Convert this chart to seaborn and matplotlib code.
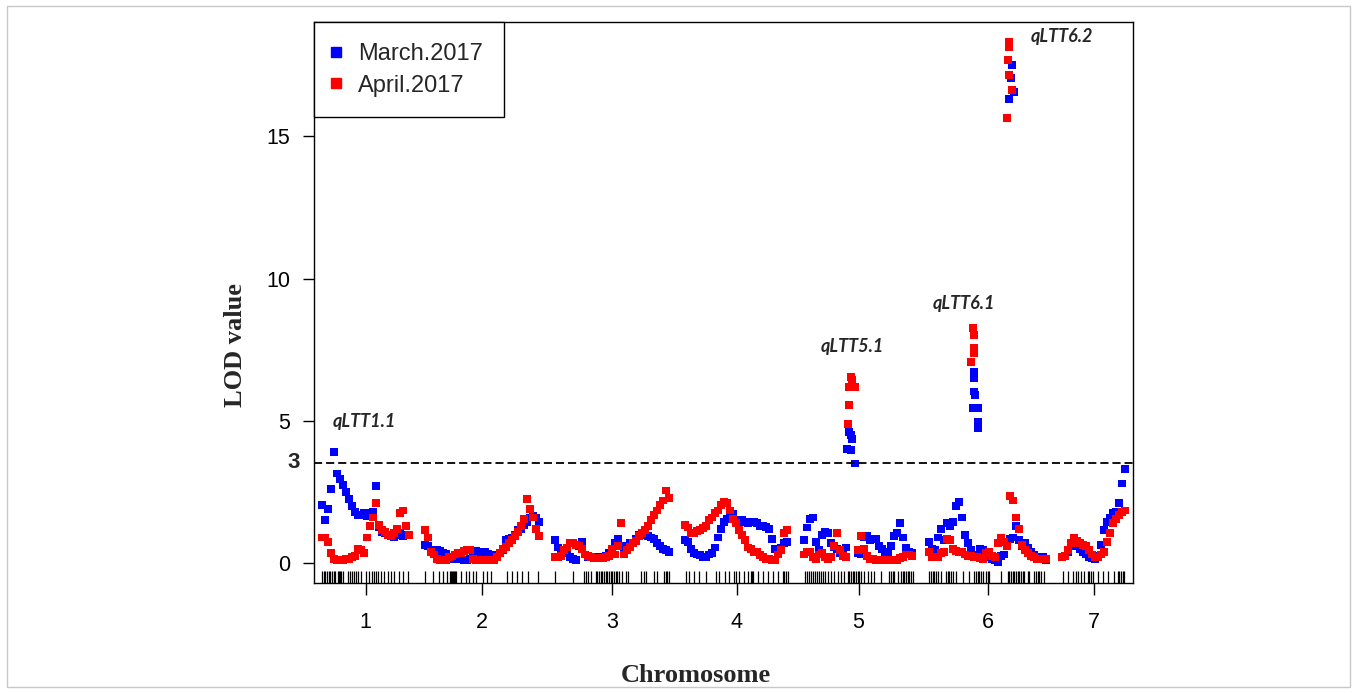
import numpy as np
import pandas as pd
import matplotlib
matplotlib.use("Agg")
import matplotlib.pyplot as plt
import seaborn as sns
from matplotlib.lines import Line2D
from matplotlib.patches import Rectangle

# chromosome layout (cM) and scan step
chrom_names = ["1", "2", "3", "4", "5", "6", "7"]
chrom_len = [87, 114, 114, 103, 109, 117, 63]
chrom_gap = 16
scan_step = 3
threshold = 3.52

# LOD profiles, one value per scan step
march_chr1 = [2.05, 1.5, 1.9, 2.6, 3.9, 3.15, 2.95, 2.75, 2.5, 2.25, 2.0, 1.8, 1.7, 1.7, 1.75,
              1.65, 1.75, 1.8, 2.7, 1.25, 1.1, 1.05, 1.0, 0.95, 0.9, 1.0, 1.05, 0.95, 1.0, 1.0]
april_chr1 = [0.9, 0.9, 0.75, 0.35, 0.15, 0.1, 0.1, 0.12, 0.15, 0.15, 0.2, 0.25, 0.5, 0.45, 0.35,
              0.9, 1.3, 1.6, 2.1, 1.35, 1.15, 1.1, 1.0, 0.95, 1.05, 1.2, 1.75, 1.85, 1.3, 1.0]
march_chr2 = [0.65, 0.6, 0.45, 0.45, 0.45, 0.42, 0.35, 0.32, 0.2, 0.15, 0.15, 0.15, 0.15, 0.1,
              0.1, 0.15, 0.4, 0.42, 0.4, 0.4, 0.38, 0.33, 0.3, 0.3, 0.3, 0.35, 0.45, 0.8, 0.85,
              0.9, 1.0, 1.15, 1.2, 1.35, 1.45, 1.6, 1.65, 1.6, 1.45]
april_chr2 = [1.17, 0.9, 0.4, 0.3, 0.15, 0.12, 0.12, 0.12, 0.2, 0.23, 0.3, 0.35, 0.35, 0.42,
              0.45, 0.47, 0.15, 0.12, 0.1, 0.1, 0.1, 0.12, 0.12, 0.12, 0.2, 0.35, 0.5, 0.58,
              0.7, 0.8, 0.95, 1.1, 1.3, 1.55, 2.25, 1.9, 1.6, 1.2, 0.95]
march_chr3 = [0.82, 0.55, 0.3, 0.35, 0.45, 0.22, 0.15, 0.12, 0.6, 0.75, 0.3, 0.22, 0.2, 0.2,
              0.2, 0.22, 0.23, 0.25, 0.35, 0.4, 0.7, 0.85, 0.6, 0.58, 0.6, 0.7, 0.72, 0.85, 1.0,
              1.0, 1.0, 0.95, 0.9, 0.85, 0.7, 0.6, 0.5, 0.45, 0.38]
april_chr3 = [0.2, 0.22, 0.25, 0.45, 0.55, 0.7, 0.7, 0.65, 0.62, 0.5, 0.3, 0.25, 0.2, 0.18,
              0.17, 0.17, 0.17, 0.22, 0.25, 0.5, 0.3, 0.6, 1.4, 0.3, 0.45, 0.58, 0.7, 0.78,
              0.94, 1.05, 1.15, 1.3, 1.5, 1.7, 1.85, 2.05, 2.2, 2.55, 2.3]
march_chr4 = [0.8, 0.75, 0.5, 0.35, 0.3, 0.28, 0.2, 0.2, 0.3, 0.35, 0.55, 0.9, 1.2, 1.45, 1.55,
              1.62, 1.72, 1.5, 1.42, 1.5, 1.45, 1.4, 1.45, 1.45, 1.4, 1.3, 1.3, 1.28, 1.2, 0.85,
              0.5, 0.35, 0.55, 0.7, 0.75]
april_chr4 = [1.35, 1.25, 1.05, 1.05, 1.12, 1.15, 1.22, 1.3, 1.5, 1.6, 1.75, 1.85, 2.05, 2.15,
              2.1, 1.85, 1.55, 1.4, 1.15, 1.0, 0.8, 0.55, 0.5, 0.4, 0.38, 0.28, 0.22, 0.15,
              0.15, 0.12, 0.12, 0.3, 0.45, 1.05, 1.15]
march_chr5 = [0.8, 1.25, 1.55, 1.6, 0.75, 0.45, 1.0, 1.1, 1.05, 0.7, 0.55, 0.5, 0.35, 0.3, 0.55,
              4.6, 4.35, 3.5, 0.35, 0.3, 0.9, 0.95, 0.8, 0.85, 0.85, 0.6, 0.5, 0.35, 0.4, 0.6,
              0.95, 1.05, 1.4, 0.9, 0.55, 0.4, 0.35]
april_chr5 = [0.3, 0.4, 0.4, 0.2, 0.15, 0.3, 0.35, 0.2, 0.15, 0.2, 0.6, 1.05, 0.45, 0.25, 0.2,
              6.2, 6.45, 6.2, 0.45, 0.95, 0.5, 0.25, 0.15, 0.15, 0.12, 0.12, 0.12, 0.12, 0.12,
              0.12, 0.12, 0.12, 0.18, 0.2, 0.3, 0.3, 0.25]
march_chr6 = [0.75, 0.5, 0.45, 0.9, 1.2, 0.8, 1.4, 1.3, 1.45, 2.0, 2.15, 1.6, 1.0, 0.7, 0.45,
              0.3, 0.3, 0.5, 0.45, 0.2, 0.2, 0.15, 0.12, 0.05, 0.25, 0.3, 0.7, 0.85, 0.9, 1.3,
              0.8, 0.6, 0.7, 0.55, 0.4, 0.3, 0.2, 0.2, 0.2, 0.1]
april_chr6 = [0.4, 0.22, 0.2, 0.2, 0.35, 0.4, 0.85, 0.8, 0.5, 0.42, 0.38, 0.38, 0.3, 0.25, 0.25,
              0.2, 0.2, 0.18, 0.15, 0.35, 0.4, 0.25, 0.2, 0.7, 0.9, 0.75, 0.6, 2.35, 2.2, 1.6,
              1.2, 0.65, 0.45, 0.35, 0.25, 0.2, 0.15, 0.15, 0.15, 0.15]
march_chr7 = [0.22, 0.25, 0.4, 0.6, 0.8, 0.6, 0.5, 0.4, 0.3, 0.2, 0.18, 0.15, 0.25, 0.65, 1.15,
              1.45, 1.6, 1.75, 1.8, 2.1, 2.8, 3.3]
april_chr7 = [0.22, 0.25, 0.45, 0.7, 0.88, 0.78, 0.7, 0.65, 0.6, 0.45, 0.3, 0.22, 0.2, 0.3, 0.4,
              0.75, 1.05, 1.4, 1.55, 1.7, 1.8, 1.85]

# extra points in the QTL peak columns (chromosome, cM, LOD)
march_peak_chr = ["5", "5", "5", "6", "6", "6", "6", "6", "6", "6", "6", "6", "6", "6", "6"]
march_peak_pos = [43, 47, 47, 45, 45, 45, 46, 44, 49, 49, 49, 83, 82, 85, 80]
march_peak_lod = [4.0, 4.5, 3.98, 6.73, 6.51, 6.03, 5.91, 5.45, 5.45, 4.97, 4.75,
                  17.51, 17.04, 16.57, 16.3]
april_peak_chr = ["5", "5", "5", "5", "6", "6", "6", "6", "6", "6", "6", "6", "6", "6", "6"]
april_peak_pos = [44, 45, 47, 48, 44, 45, 45, 45, 42, 80, 80, 79, 80, 83, 78]
april_peak_lod = [4.9, 5.55, 6.55, 6.2, 8.26, 8.03, 7.56, 7.39, 7.08,
                  18.33, 18.15, 17.68, 17.16, 16.63, 15.66]

# genotyped markers (cM within chromosome), drawn as the rug
markers_chr1 = [0, 2, 3, 5, 7, 8, 10, 12, 13, 16, 17, 18, 19, 21, 26, 28, 30, 32, 34, 36, 39,
                44, 47, 50, 52, 54, 56, 59, 62, 66, 69, 72, 77, 81, 86]
markers_chr2 = [0, 8, 14, 18, 22, 25, 26, 27, 28, 29, 30, 31, 36, 41, 44, 48, 51, 58, 62, 66,
                82, 87, 92, 97, 103, 113]
markers_chr3 = [0, 18, 29, 31, 33, 36, 41, 42, 44, 46, 47, 49, 51, 52, 54, 56, 57, 59, 61, 62,
                64, 67, 71, 73, 86, 89, 91, 99, 102, 109, 111, 112, 114]
markers_chr4 = [1, 4, 9, 14, 21, 31, 34, 40, 44, 49, 51, 54, 59, 63, 66, 67, 68, 73, 78, 83,
                88, 93, 98, 99, 101, 103]
markers_chr5 = [1, 3, 5, 7, 9, 11, 13, 15, 17, 19, 21, 24, 27, 30, 34, 37, 40, 44, 45, 47, 49,
                50, 52, 54, 55, 57, 60, 64, 67, 70, 77, 85, 87, 89, 90, 94, 97, 99, 100, 102,
                104, 105, 107, 109]
markers_chr6 = [0, 2, 4, 5, 7, 9, 12, 17, 19, 20, 22, 24, 27, 34, 40, 45, 47, 49, 50, 52, 54,
                57, 59, 60, 72, 79, 80, 82, 84, 85, 87, 89, 90, 92, 94, 95, 99, 100, 105, 107,
                109, 110, 112, 115]
markers_chr7 = [1, 6, 11, 14, 16, 19, 22, 26, 27, 29, 31, 36, 41, 46, 52, 56, 57, 59, 61, 62]

# QTL names with (chromosome, cM, LOD) of the label centre
qtl_names = ["qLTT1.1", "qLTT5.1", "qLTT6.1", "qLTT6.2"]
qtl_chr = ["1", "5", "6", "6"]
qtl_pos = [42.5, 48.7, 35.3, 133]
qtl_lod = [4.98, 7.61, 9.14, 18.5]

series_names = ["March.2017", "April.2017"]
series_colors = {"March.2017": "#0000ff", "April.2017": "#ff0000"}

march = [march_chr1, march_chr2, march_chr3, march_chr4, march_chr5, march_chr6, march_chr7]
april = [april_chr1, april_chr2, april_chr3, april_chr4, april_chr5, april_chr6, april_chr7]
markers = [markers_chr1, markers_chr2, markers_chr3, markers_chr4, markers_chr5,
           markers_chr6, markers_chr7]

# start of each chromosome on the concatenated axis
starts = {}
acc = 0
for name, length in zip(chrom_names, chrom_len):
    starts[name] = acc
    acc += length + chrom_gap
x_end = starts[chrom_names[-1]] + chrom_len[-1]

rows = []
for sname, profiles, pk_chr, pk_pos, pk_lod in [
        ("March.2017", march, march_peak_chr, march_peak_pos, march_peak_lod),
        ("April.2017", april, april_peak_chr, april_peak_pos, april_peak_lod)]:
    for name, length, lod in zip(chrom_names, chrom_len, profiles):
        grid = np.arange(0, length + 1, scan_step)
        assert len(grid) == len(lod), (sname, name)
        for g, v in zip(grid, lod):
            rows.append((sname, starts[name] + g, v))
    for c, p, v in zip(pk_chr, pk_pos, pk_lod):
        rows.append((sname, starts[c] + p, v))
df = pd.DataFrame(rows, columns=["series", "pos", "lod"])

sns.set_style("ticks")
plt.rcParams["font.family"] = ["Liberation Sans", "DejaVu Sans"]

fig = plt.figure(figsize=(13.57, 6.93), dpi=100)
ax = fig.add_axes([314 / 1357, 1 - 583 / 693, (1133 - 314) / 1357, (583 - 22) / 693])

sns.scatterplot(data=df, x="pos", y="lod", hue="series", hue_order=series_names,
                palette=series_colors, marker="s", s=32, linewidth=0, legend=False, ax=ax)

# marker rug
all_markers = [starts[n] + m for n, ms in zip(chrom_names, markers) for m in ms]
ax.vlines(all_markers, 0, 0.022, transform=ax.get_xaxis_transform(), color="black", lw=0.9)

ax.axhline(threshold, color="black", ls=(0, (4.5, 2.2)), lw=1.3)

ax.set_xlim(-chrom_gap / 2, x_end + chrom_gap / 2)
ax.set_ylim(-0.70, 19.02)

centers = [starts[n] + L / 2 for n, L in zip(chrom_names, chrom_len)]
ax.set_xticks(centers)
ax.set_xticklabels(chrom_names, fontsize=15.5)
ax.set_yticks([0, 5, 10, 15])
ax.set_yticklabels(["0", "5", "10", "15"], fontsize=15.5)
ax.tick_params(axis="x", length=8.6, width=1, pad=12, colors="black")
ax.tick_params(axis="y", length=8, width=1, pad=9, colors="black")
ax.set_xlabel("")
ax.set_ylabel("")
for sp in ax.spines.values():
    sp.set_visible(True)
    sp.set_color("black")
    sp.set_linewidth(1.0)

ax.text(-0.017, threshold, "3", transform=ax.get_yaxis_transform(), ha="right", va="center",
        fontsize=16, fontweight="bold")

for name, c, p, v in zip(qtl_names, qtl_chr, qtl_pos, qtl_lod):
    ax.text(starts[c] + p, v, name, ha="center", va="center", fontsize=13,
            fontweight="bold", fontstyle="italic", family=["Lato", "DejaVu Sans"])

handles = [Line2D([], [], marker="s", ls="", color=series_colors[n], markersize=7)
           for n in series_names]
leg = ax.legend(handles, series_names, loc="upper left", borderaxespad=0, fontsize=17,
                frameon=True, fancybox=False, framealpha=1, edgecolor="black",
                handlelength=0.1, handletextpad=0.9, borderpad=0.88, labelspacing=0.42)
leg.get_frame().set_linewidth(1.0)

fig.text(236 / 1357, 1 - 345 / 693, "LOD value", rotation=90, ha="center", va="center",
         fontsize=19, fontweight="bold", family=["Liberation Serif", "DejaVu Serif"])
fig.text(696 / 1357, 1 - 675 / 693, "Chromosome", ha="center", va="center",
         fontsize=19, fontweight="bold", family=["Liberation Serif", "DejaVu Serif"])

fig.patches.append(Rectangle((0.005, 0.008), 0.99, 0.984, transform=fig.transFigure,
                             fill=False, ec="#c8c8c8", lw=1))

fig.savefig("out.png", dpi=100)
